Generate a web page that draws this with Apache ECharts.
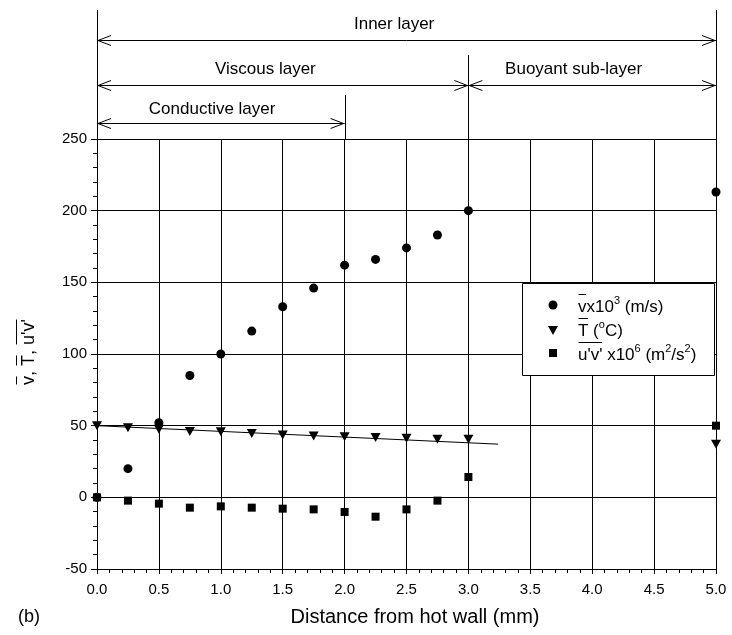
<!DOCTYPE html>
<html>
<head>
<meta charset="utf-8">
<script src="https://cdn.jsdelivr.net/npm/echarts/dist/echarts.min.js"></script>
<style>
html,body{margin:0;padding:0;background:#fff;}
#chart{width:732px;height:635px;}
</style>
</head>
<body>
<div id="chart"></div>
<script>
// ---- data ----
const xPositions = [0, 0.25, 0.5, 0.75, 1.0, 1.25, 1.5, 1.75, 2.0, 2.25, 2.5, 2.75, 3.0, 5.0];
const vValues   = [0, 20, 52, 85, 100, 116, 133, 146, 162, 166, 174, 183, 200, 213];
const tValues   = [50, 48.5, 47.5, 46, 45.8, 44.6, 43.5, 42.8, 42.3, 41.8, 41.2, 40.5, 40.5, 37];
const uvValues  = [0, -2.3, -4.4, -7.2, -6.3, -7.2, -7.9, -8.4, -10.2, -13.5, -8.4, -2.3, 14.2, 50];
const trendX    = [0, 3.24];
const trendY    = [50, 37.1];
const xTicks    = ['0.0','0.5','1.0','1.5','2.0','2.5','3.0','3.5','4.0','4.5','5.0'];
const yTicks    = [-50, 0, 50, 100, 150, 200, 250];
// layer annotations: [label, xStart, xEnd, arrowLevel, textLevel, textCenterX]
const layers = [
  ['Inner layer', 0, 5, 319, 330, 2.4],
  ['Viscous layer', 0, 3, 287.7, 298.5, 1.36],
  ['Buoyant sub-layer', 3, 5, 287.7, 298.5, 3.85],
  ['Conductive layer', 0, 2, 261.2, 270.5, 0.93]
];
// vertical boundary lines: [x, top level]
const boundaries = [[0, 340], [2, 280.7], [3, 308.6], [5, 340]];

const FONT = '"Liberation Sans", Arial, Helvetica, sans-serif';
const chart = echarts.init(document.getElementById('chart'), null, {renderer:'canvas'});

const zip = (xs, ys) => xs.map((x, i) => [x, ys[i]]);
const markStyle = {color: '#000', opacity: 1, borderWidth: 0};

chart.setOption({
  animation: false,
  backgroundColor: '#fff',
  grid: {left: 97, right: 16, top: 139, bottom: 66, containLabel: false},
  xAxis: {
    type: 'value', min: 0, max: 5, interval: 0.5,
    axisLine: {show: true, onZero: false, lineStyle: {color: '#000', width: 1}},
    axisTick: {show: true, length: 5, lineStyle: {color: '#000'}},
    minorTick: {show: true, splitNumber: 5, length: 4, lineStyle: {color: '#000'}},
    splitLine: {show: true, lineStyle: {color: '#000', width: 1}},
    axisLabel: {color: '#000', fontSize: 15, fontFamily: FONT, margin: 13,
      formatter: v => xTicks[Math.round(v / 0.5)]}
  },
  yAxis: {
    type: 'value', min: -50, max: 250, interval: 50,
    axisLine: {show: true, onZero: false, lineStyle: {color: '#000', width: 1}},
    axisTick: {show: true, length: 6, lineStyle: {color: '#000'}},
    minorTick: {show: true, splitNumber: 5, length: 4, lineStyle: {color: '#000'}},
    splitLine: {show: true, lineStyle: {color: '#000', width: 1}},
    axisLabel: {color: '#000', fontSize: 15, fontFamily: FONT, margin: 10,
      formatter: v => String(yTicks[yTicks.indexOf(v)])}
  },
  series: [
    {type: 'line', data: zip(trendX, trendY), symbol: 'none', lineStyle: {color: '#000', width: 1}, z: 3},
    {type: 'scatter', data: zip(xPositions, vValues), symbol: 'circle', symbolSize: 9, itemStyle: markStyle, z: 4},
    {type: 'scatter', data: zip(xPositions, tValues), symbol: 'triangle', symbolRotate: 180, symbolSize: [10, 9], itemStyle: markStyle, z: 4},
    {type: 'scatter', data: zip(xPositions, uvValues), symbol: 'rect', symbolSize: 8, itemStyle: markStyle, z: 4}
  ]
});

// text measurement
const mctx = document.createElement('canvas').getContext('2d');
function tw(text, px) { mctx.font = px + 'px ' + FONT; return mctx.measureText(text).width; }

// build a line of text from segments {t, sup, over}
function richLine(x0, yMid, segs, fs) {
  const els = [];
  let x = x0;
  segs.forEach(s => {
    const size = s.sup ? Math.round(fs * 0.65) : fs;
    const w = tw(s.t, size);
    els.push({type: 'text', x: x, y: s.sup ? yMid - fs * 0.36 : yMid, z: 100,
      style: {text: s.t, font: size + 'px ' + FONT, fill: '#000', align: 'left', verticalAlign: 'middle',
              textAlign: 'left', textVerticalAlign: 'middle'}});
    if (s.over) {
      const oy = Math.round(yMid - fs * 0.74) + 0.5;
      els.push({type: 'line', z: 100, shape: {x1: x + 0.5, y1: oy, x2: x + w - 0.5, y2: oy}, style: {stroke: '#000', lineWidth: 1}});
    }
    x += w;
  });
  return els;
}

function draw() {
  const P = (x, y) => chart.convertToPixel({gridIndex: 0}, [x, y]);
  const g = [];
  // boundary lines
  boundaries.forEach(([bx, top]) => {
    const a = P(bx, top), b = P(bx, bx === 5 ? -50 : 250);
    g.push({type: 'line', z: 50, shape: {x1: Math.round(a[0]) + 0.5, y1: a[1], x2: Math.round(b[0]) + 0.5, y2: b[1]},
      style: {stroke: '#000', lineWidth: 1}});
  });
  // arrows and labels
  layers.forEach(([label, x1, x2, lvl, tlvl, tc]) => {
    const a = P(x1, lvl), b = P(x2, lvl);
    const y = Math.round(a[1]) + 0.5;
    g.push({type: 'line', z: 50, shape: {x1: a[0], y1: y, x2: b[0], y2: y}, style: {stroke: '#000', lineWidth: 1}});
    g.push({type: 'polyline', z: 50, shape: {points: [[a[0] + 14, y - 5], [a[0] + 1, y], [a[0] + 14, y + 5]]}, style: {stroke: '#000', fill: null, lineWidth: 1}});
    g.push({type: 'polyline', z: 50, shape: {points: [[b[0] - 14, y - 5], [b[0] - 1, y], [b[0] - 14, y + 5]]}, style: {stroke: '#000', fill: null, lineWidth: 1}});
    const t = P(tc, tlvl);
    g.push({type: 'text', z: 50, x: t[0], y: t[1], style: {text: label, font: '17px ' + FONT, fill: '#000',
      align: 'center', verticalAlign: 'middle', textAlign: 'center', textVerticalAlign: 'middle'}});
  });
  // legend
  g.push({type: 'rect', z: 90, shape: {x: 522.5, y: 283.5, width: 192, height: 92}, style: {fill: '#fff', stroke: '#000', lineWidth: 1}});
  g.push({type: 'circle', z: 100, shape: {cx: 553, cy: 305, r: 4.5}, style: {fill: '#000'}});
  g.push({type: 'polygon', z: 100, shape: {points: [[548, 326], [558, 326], [553, 335]]}, style: {fill: '#000'}});
  g.push({type: 'rect', z: 100, shape: {x: 549, y: 349, width: 8, height: 8}, style: {fill: '#000'}});
  const LF = 17;
  g.push(...richLine(578, 307, [{t: 'v', over: true}, {t: 'x10'}, {t: '3', sup: true}, {t: ' (m/s)'}], LF));
  g.push(...richLine(578, 331, [{t: 'T', over: true}, {t: ' ('}, {t: 'o', sup: true}, {t: 'C)'}], LF));
  g.push(...richLine(578, 355, [{t: "u'v'", over: true}, {t: ' x10'}, {t: '6', sup: true}, {t: ' (m'}, {t: '2', sup: true},
                                {t: '/s'}, {t: '2', sup: true}, {t: ')'}], LF));
  // y axis title (rotated)
  const yf = 18;
  const ysegs = [{t: 'v', over: true}, {t: ', '}, {t: 'T', over: true}, {t: ', '}, {t: "u'v'", over: true}];
  const total = ysegs.reduce((s, q) => s + tw(q.t, yf), 0);
  g.push({type: 'group', x: 29, y: 352, rotation: Math.PI / 2, children: richLine(-total / 2, 0, ysegs, yf)});
  // x axis title and panel label
  g.push({type: 'text', z: 50, x: 415, y: 617, style: {text: 'Distance from hot wall (mm)', font: '20px ' + FONT, fill: '#000',
    align: 'center', verticalAlign: 'middle', textAlign: 'center', textVerticalAlign: 'middle'}});
  g.push({type: 'text', z: 50, x: 18, y: 617, style: {text: '(b)', font: '18px ' + FONT, fill: '#000',
    align: 'left', verticalAlign: 'middle', textAlign: 'left', textVerticalAlign: 'middle'}});
  chart.setOption({graphic: {elements: g}});
}
draw();
</script>
</body>
</html>
